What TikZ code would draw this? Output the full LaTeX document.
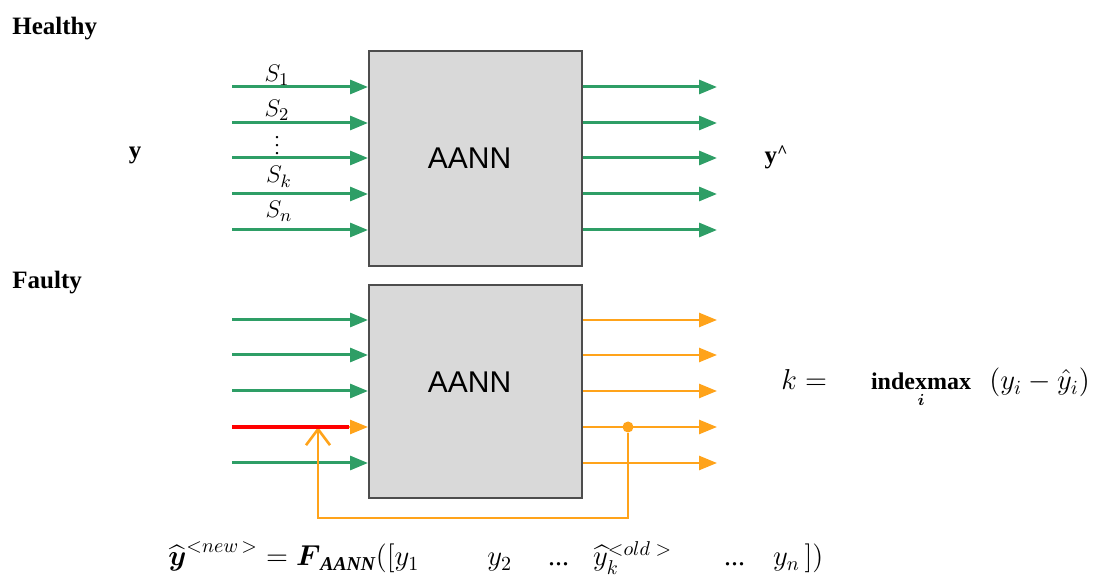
\documentclass[tikz,border=0pt]{standalone}
\usepackage{amsmath,amssymb}
\usepackage{fontspec}
\setmainfont{Liberation Serif}
\setsansfont{Liberation Sans}
\usetikzlibrary{arrows.meta,calc}
\definecolor{agreen}{HTML}{2E9E66}
\definecolor{aorange}{HTML}{FFA31A}
\definecolor{ared}{HTML}{FF0000}
\definecolor{abox}{HTML}{D9D9D9}
\definecolor{aedge}{HTML}{4D4D4D}

\begin{document}
\begin{tikzpicture}[x=0.5pt,y=0.5pt,
  blk/.style={draw=aedge, line width=1pt, fill=abox, minimum width=106.5pt, minimum height=#1, inner sep=0pt},
  gin/.style={agreen, line width=1.5pt, -{Triangle[length=9pt,width=7pt]}},
  oout/.style={aorange, line width=1.3pt, -{Triangle[length=9pt,width=7pt]}},
  lab/.style={font=\bfseries\fontsize{12.5}{14}\selectfont, inner sep=0pt},
  aann/.style={font=\sffamily\fontsize{15}{18}\selectfont},
  eq/.style={font=\fontsize{13}{15}\selectfont, inner sep=0pt},
  beq/.style={font=\fontsize{14}{16}\selectfont, inner sep=0pt}]
 \useasboundingbox (0,0) rectangle (1108,578);
 \node[blk=107.5pt] (hbox) at (475.5,419.5) {};
 \node[blk=106.5pt] (fbox) at (475.5,186.5) {};
 \node[aann] (htxt) at ([xshift=-3pt]hbox.center) {AANN};
 \node[aann] (ftxt) at ([xshift=-3pt,yshift=4.5pt]fbox.center) {AANN};
 \foreach \y [count=\i] in {491,455,420,384,348} {
   \coordinate (hin\i) at (232,\y);
   \coordinate (hout\i) at (717,\y);
   \draw[gin] (hin\i) -- (hin\i -| hbox.west);
   \draw[gin] (hbox.east |- hout\i) -- (hout\i);
 }
 \foreach \y [count=\i] in {258,223,187,151,115} {
   \coordinate (fin\i) at (232,\y);
   \coordinate (fout\i) at (717,\y);
   \draw[oout] (fbox.east |- fout\i) -- (fout\i);
 }
 \foreach \i in {1,2,3,5} \draw[gin] (fin\i) -- (fin\i -| fbox.west);
 \node[circle, fill=aorange, inner sep=0pt, minimum size=5.5pt] (tap) at (628,151) {};
 \coordinate (fbk) at (318,151);
 \coordinate (rend) at (349,151);
 \draw[aorange, line width=1.3pt, -{Straight Barb[length=8pt,width=12pt]}] (tap) -- (tap |- 0,60) -- (fbk |- 0,60) -- (fbk);
 \draw[oout] (fbk) -- (fin4 -| fbox.west);
 \draw[ared, line width=2.3pt] (fin4) -- (rend);
 \node[lab, anchor=base west] (healthy) at (12,543) {Healthy};
 \node[lab, anchor=base west] (faulty) at (12,289) {Faulty};
 \node[lab] (yin) at (135,423) {y};
 \node[lab] (yhat) at (776,421) {y\raisebox{3pt}{\fontsize{9}{10}\selectfont\textasciicircum}};
 \node[eq, anchor=base] (s1) at (277,496) {$S_1$};
 \node[eq, anchor=base] (s2) at (277,461) {$S_2$};
 \node[font=\fontsize{10}{12}\selectfont, inner sep=0pt] (sdots) at (277,438) {$\vdots$};
 \node[eq, anchor=base] (sk) at (279,395) {$S_k$};
 \node[eq, anchor=base] (sn) at (279,360) {$S_n$};
 \node[beq, anchor=base west] (kval) at (781,188) {$k =$};
 \node[font=\fontsize{12}{14}\selectfont, inner sep=0pt, anchor=base] (kmax) at (921,188) {$\mathop{\textbf{indexmax}}\limits_{\boldsymbol{i}}$};
 \node[beq, anchor=base west] (kdiff) at (989,188) {$(y_i - \hat{y}_i)$};
 \node[beq, anchor=base west] (upd) at (168,12) {$\widehat{\boldsymbol{y}}^{<new\,>} = \boldsymbol{F}_{\text{\bfseries\itshape AANN}}([y_1\hspace{34pt}y_2\hspace{18pt}\text{...}\hspace{12pt}\widehat{y}_k^{<old\;>}\hspace{26pt}\text{...}\hspace{14pt}y_n\,])$};
\end{tikzpicture}
\end{document}
